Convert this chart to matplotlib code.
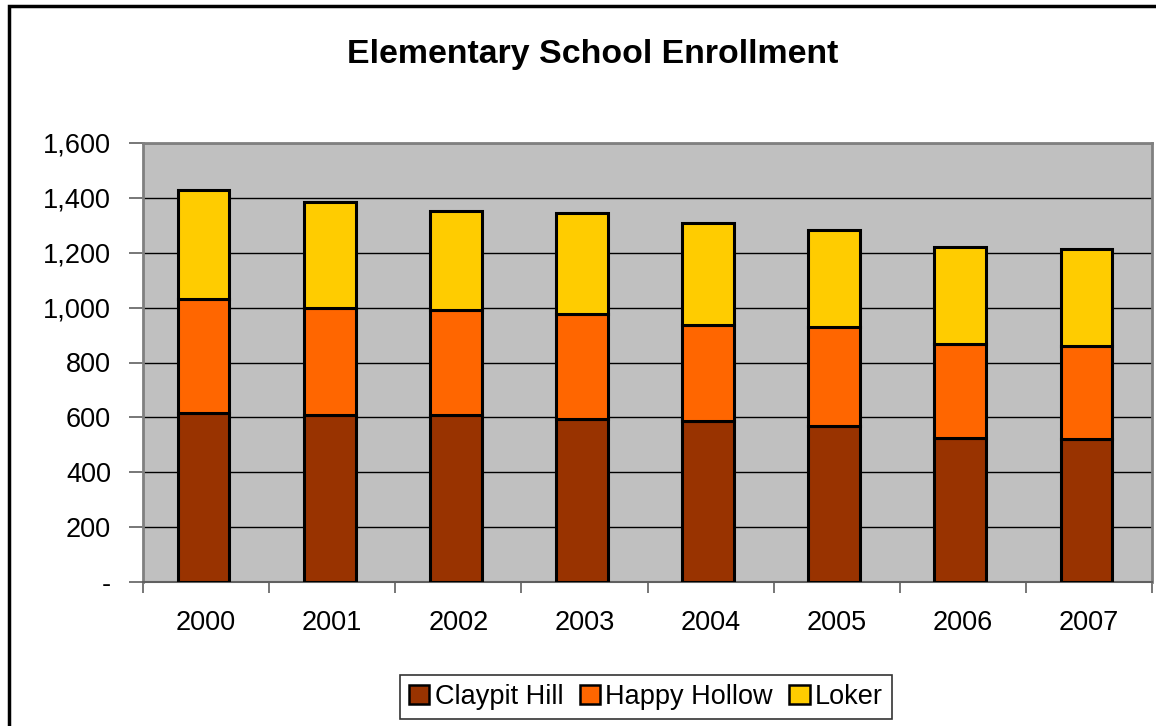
import matplotlib
matplotlib.use('Agg')

import matplotlib.pyplot as plt
from matplotlib.patches import Rectangle
from matplotlib.ticker import FuncFormatter, FixedLocator
import numpy as np

plt.rcParams['font.family'] = ['Liberation Sans', 'DejaVu Sans']

# data
years = ['2000', '2001', '2002', '2003', '2004', '2005', '2006', '2007']
claypit_hill = [617, 608, 608, 594, 585, 569, 524, 522]
happy_hollow = [415, 392, 385, 382, 353, 362, 344, 338]
loker = [398, 384, 360, 369, 369, 351, 354, 353]

series = [
    ('Claypit Hill', claypit_hill, '#993300'),
    ('Happy Hollow', happy_hollow, '#FF6600'),
    ('Loker', loker, '#FFCC00'),
]

fig = plt.figure(figsize=(11.56, 7.26), dpi=100, facecolor='white')

# outer chart frame
fig.patches.append(Rectangle((9 / 1156, -0.1), 1.2, 1 - 6 / 726 + 0.1,
                             transform=fig.transFigure, fill=False,
                             edgecolor='black', linewidth=2.5, zorder=0))

ax = fig.add_axes([143 / 1156, 1 - 582 / 726, 1009 / 1156, 439 / 726])
ax.set_facecolor('#C0C0C0')

x = np.arange(len(years))
bottom = np.zeros(len(years))
for name, vals, color in series:
    ax.bar(x - 0.02, vals, width=0.41, bottom=bottom, color=color,
           edgecolor='black', linewidth=2.2, label=name, zorder=3)
    bottom += np.array(vals)

ax.set_xlim(-0.5, len(years) - 0.5)
ax.set_ylim(0, 1600)
ax.set_yticks(np.arange(0, 1601, 200))
ax.yaxis.set_major_formatter(FuncFormatter(lambda v, p: '-' if v == 0 else f'{v:,.0f}'))
ax.grid(axis='y', color='black', linewidth=1.0, zorder=1)
ax.set_axisbelow(True)

# category labels centered, ticks at boundaries
ax.set_xticks(x)
ax.set_xticklabels(years)
ax.xaxis.set_minor_locator(FixedLocator(np.arange(-0.5, len(years), 1.0)))
ax.tick_params(axis='x', which='major', length=0, pad=20, labelsize=19.5)
ax.tick_params(axis='x', which='minor', length=8, width=1.2, color='#606060', direction='out')
ax.tick_params(axis='y', length=10, width=1.2, color='#606060', pad=13, labelsize=19.5)

for side in ['top', 'right', 'left']:
    ax.spines[side].set_color('#808080')
    ax.spines[side].set_linewidth(2)
ax.spines['bottom'].set_color('#606060')
ax.spines['bottom'].set_linewidth(1.5)

fig.text(593 / 1156, 1 - 54 / 726, 'Elementary School Enrollment',
         ha='center', va='center', fontsize=24.4, fontweight='bold')

leg = fig.legend(loc='center', bbox_to_anchor=(646 / 1156, 1 - 697 / 726),
                 ncol=3, fontsize=19.5, frameon=True, fancybox=False,
                 edgecolor='black', handlelength=0.75, handleheight=0.75,
                 handletextpad=0.2, columnspacing=0.6, borderpad=0.35)
leg.get_frame().set_linewidth(1.2)
for h in leg.legend_handles:
    h.set_linewidth(1.8)

fig.savefig('out.png', dpi=100, facecolor='white')
